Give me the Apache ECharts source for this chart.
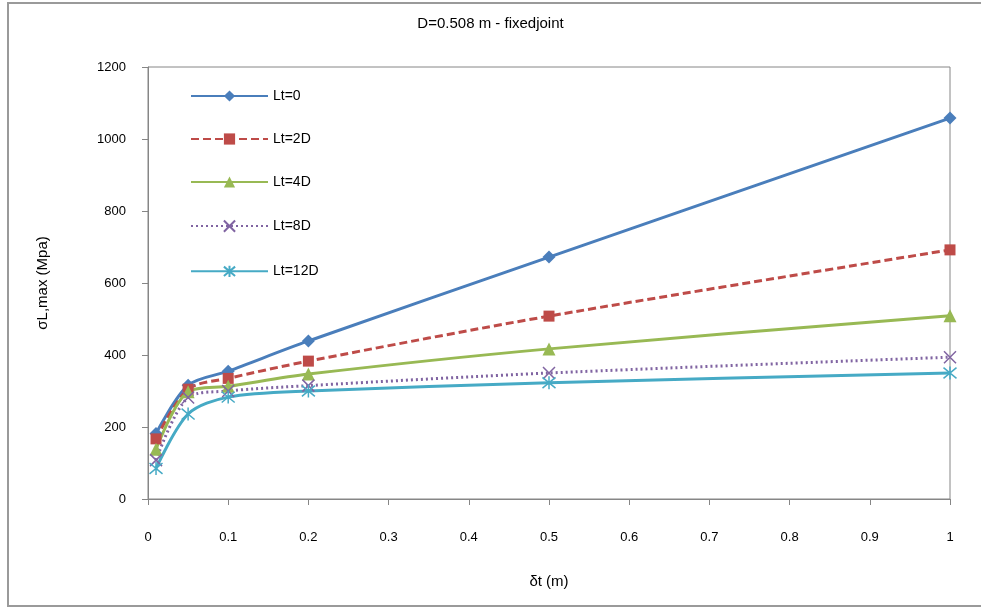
<!DOCTYPE html>
<html>
<head>
<meta charset="utf-8">
<script src="https://cdn.jsdelivr.net/npm/echarts@6/dist/echarts.min.js"></script>
<style>
  html, body { margin: 0; padding: 0; background: #fff; }
  #chart { width: 981px; height: 608px; }
</style>
</head>
<body>
<div id="chart"></div>
<script>
// x positions (m)
const deltaT = [0.01, 0.05, 0.1, 0.2, 0.5, 1];

// sigma L,max (Mpa) per series
const lt0 = [182, 316, 355, 439, 672, 1058];
const lt2D = [167, 305, 335, 383, 508, 692];
const lt4D = [138, 298, 313, 347, 417, 509];
const lt8D = [108, 282, 300, 315, 350, 394];
const lt12D = [85, 236, 283, 300, 323, 350];

const seriesNames = ['Lt=0', 'Lt=2D', 'Lt=4D', 'Lt=8D', 'Lt=12D'];
const axisGray = '#868686';
const font = 'Liberation Sans';

const pts = vals => deltaT.map((x, i) => [x, vals[i]]);

// "x" marker for Lt=8D, "*" marker for Lt=12D
const crossPath = 'path://M0,0L10,10M10,0L0,10';
const starPath = 'path://M0,0L10,10M10,0L0,10M5,-1L5,11';

const myChart = echarts.init(document.getElementById('chart'));
const option = {
    animation: false,
    textStyle: { fontFamily: font },
    title: {
        text: 'D=0.508 m - fixedjoint',
        left: 'center',
        top: 11,
        textStyle: { fontSize: 15, fontWeight: 'normal', color: '#000', fontFamily: font }
    },
    graphic: [
        {
            type: 'rect',
            shape: { x: 8, y: 3, width: 990, height: 603 },
            style: { fill: 'none', stroke: '#9a9a9a', lineWidth: 2 },
            silent: true
        }
    ],
    legend: {
        orient: 'vertical',
        left: 185,
        top: 84,
        itemGap: 29,
        itemWidth: 77,
        itemHeight: 14,
        data: seriesNames,
        textStyle: { fontSize: 14, color: '#000', fontFamily: font }
    },
    grid: {
        left: 148,
        right: 31,
        top: 67,
        bottom: 109,
        show: true,
        borderColor: axisGray,
        borderWidth: 1
    },
    xAxis: {
        type: 'value',
        min: 0,
        max: 1,
        interval: 0.1,
        name: 'δt (m)',
        nameLocation: 'middle',
        nameGap: 75,
        nameTextStyle: { fontSize: 15, color: '#000', fontFamily: font },
        axisLine: { lineStyle: { color: axisGray } },
        axisTick: { show: true, length: 6, lineStyle: { color: axisGray } },
        axisLabel: { margin: 32, fontSize: 13, color: '#000', fontFamily: font },
        splitLine: { show: false }
    },
    yAxis: {
        type: 'value',
        min: 0,
        max: 1200,
        interval: 200,
        name: 'σL,max (Mpa)',
        nameLocation: 'middle',
        nameGap: 98,
        nameRotate: 90,
        nameTextStyle: { fontSize: 15, color: '#000', fontFamily: font },
        axisLine: { show: true, lineStyle: { color: axisGray } },
        axisTick: { show: true, length: 6, lineStyle: { color: axisGray } },
        axisLabel: { margin: 22, fontSize: 13, color: '#000', fontFamily: font, formatter: v => String(v) },
        splitLine: { show: false }
    },
    series: [
        {
            name: 'Lt=0',
            type: 'line',
            smooth: 0.3,
            data: pts(lt0),
            symbol: 'diamond',
            symbolSize: 13,
            color: '#4a7ebb',
            lineStyle: { width: 3, color: '#4a7ebb' },
            itemStyle: { color: '#4a7ebb' }
        },
        {
            name: 'Lt=2D',
            type: 'line',
            smooth: 0.3,
            data: pts(lt2D),
            symbol: 'rect',
            symbolSize: 11,
            color: '#be4b48',
            lineStyle: { width: 3, type: [8, 4], color: '#be4b48' },
            itemStyle: { color: '#be4b48' }
        },
        {
            name: 'Lt=4D',
            type: 'line',
            smooth: 0.3,
            data: pts(lt4D),
            symbol: 'triangle',
            symbolSize: 13,
            color: '#98b954',
            lineStyle: { width: 3, color: '#98b954' },
            itemStyle: { color: '#98b954' }
        },
        {
            name: 'Lt=8D',
            type: 'line',
            smooth: 0.3,
            data: pts(lt8D),
            symbol: crossPath,
            symbolSize: 12,
            color: '#8064a2',
            lineStyle: { width: 3, type: [2, 3], color: '#8064a2' },
            itemStyle: { color: 'none', borderColor: '#8064a2', borderWidth: 1.5 }
        },
        {
            name: 'Lt=12D',
            type: 'line',
            smooth: 0.3,
            data: pts(lt12D),
            symbol: starPath,
            symbolSize: 13,
            color: '#46aac5',
            lineStyle: { width: 3, color: '#46aac5' },
            itemStyle: { color: 'none', borderColor: '#46aac5', borderWidth: 1.5 }
        }
    ]
};
myChart.setOption(option);
</script>
</body>
</html>
